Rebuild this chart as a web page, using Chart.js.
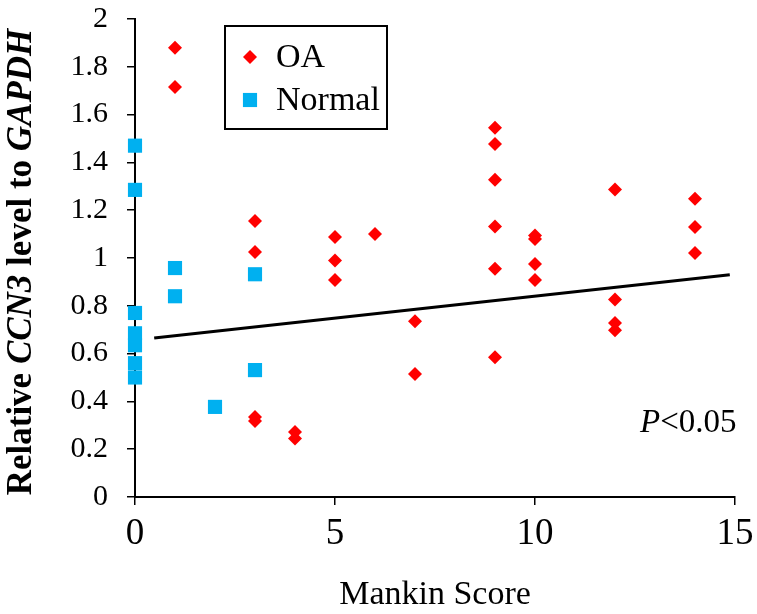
<!DOCTYPE html>
<html>
<head>
<meta charset="utf-8">
<script src="https://cdn.jsdelivr.net/npm/chart.js@4/dist/chart.umd.min.js"></script>
<style>
  html, body { margin: 0; padding: 0; background: #fff; }
  #wrap { width: 757px; height: 614px; }
</style>
</head>
<body>
<div id="wrap"><canvas id="grafico"></canvas></div>
<script>
// datos
const oaX = [1, 1, 3, 3, 3, 3, 4, 4, 5, 5, 5, 6, 7, 7, 9, 9, 9, 9, 9, 9, 10, 10, 10, 10, 12, 12, 12, 12, 14, 14, 14];
const oaY = [1.88, 1.715, 1.155, 1.025, 0.335, 0.318, 0.272, 0.245, 1.088, 0.99, 0.908, 1.10, 0.735, 0.515,
             1.545, 1.477, 1.327, 1.132, 0.955, 0.585, 1.094, 1.08, 0.975, 0.908, 1.287, 0.826, 0.728, 0.698,
             1.248, 1.13, 1.021];

const normalX = [0, 0, 0, 0, 0, 0, 0, 1, 1, 2, 3, 3];
const normalY = [1.47, 1.285, 0.77, 0.685, 0.635, 0.56, 0.50, 0.958, 0.84, 0.377, 0.932, 0.531];

const trendX = [0.48, 14.87];
const trendY = [0.665, 0.93];

const xTicks = [0, 5, 10, 15];
const yTicks = [0, 0.2, 0.4, 0.6, 0.8, 1, 1.2, 1.4, 1.6, 1.8, 2];

const serif = 'Liberation Serif';

function puntos(xs, ys) {
    return xs.map((x, i) => ({ x: x, y: ys[i] }));
}

// titulo del eje y con partes en cursiva
const tituloY = {
    id: 'tituloY',
    afterDraw(chart) {
        const ctx = chart.ctx;
        const partes = [
            { t: 'Relative ', f: 'bold 35px "' + serif + '"' },
            { t: 'CCN3', f: 'italic bold 35px "' + serif + '"' },
            { t: ' level to ', f: 'bold 35px "' + serif + '"' },
            { t: 'GAPDH', f: 'italic bold 35px "' + serif + '"' }
        ];
        ctx.save();
        let total = 0;
        partes.forEach(p => { ctx.font = p.f; p.w = ctx.measureText(p.t).width; total += p.w; });
        const area = chart.chartArea;
        ctx.translate(22, (area.top + area.bottom) / 2 + 4);
        ctx.rotate(-Math.PI / 2);
        ctx.fillStyle = '#000';
        ctx.textBaseline = 'middle';
        let x = -total / 2;
        partes.forEach(p => { ctx.font = p.f; ctx.fillText(p.t, x, 0); x += p.w; });
        ctx.restore();
    }
};

// leyenda con marco y texto P<0.05
const leyenda = {
    id: 'leyenda',
    afterDraw(chart) {
        const ctx = chart.ctx;
        ctx.save();
        ctx.strokeStyle = '#000';
        ctx.lineWidth = 2;
        ctx.strokeRect(225, 26, 162, 103);

        const items = [chart.data.datasets[0], chart.data.datasets[1]];
        const filas = [57, 100];
        items.forEach((ds, i) => {
            ctx.fillStyle = ds.backgroundColor;
            ctx.strokeStyle = ds.backgroundColor;
            Chart.helpers.drawPoint(ctx, {
                pointStyle: ds.pointStyle,
                radius: ds.pointRadius,
                borderWidth: 0,
                rotation: 0
            }, 250, filas[i]);
            ctx.fillStyle = '#000';
            ctx.font = '34px "' + serif + '"';
            ctx.textBaseline = 'middle';
            ctx.fillText(ds.label, 276, filas[i] + 1);
        });

        ctx.textBaseline = 'alphabetic';
        ctx.font = 'italic 33px "' + serif + '"';
        const wP = ctx.measureText('P').width;
        ctx.fillText('P', 640, 432);
        ctx.font = '33px "' + serif + '"';
        ctx.fillText('<0.05', 640 + wP, 432);
        ctx.restore();
    }
};

new Chart(document.getElementById('grafico'), {
    type: 'scatter',
    data: {
        datasets: [
            {
                label: 'OA',
                data: puntos(oaX, oaY),
                backgroundColor: '#ff0000',
                borderColor: '#ff0000',
                pointStyle: 'rectRot',
                pointRadius: 7,
                pointBorderWidth: 0,
                clip: false
            },
            {
                label: 'Normal',
                data: puntos(normalX, normalY),
                backgroundColor: '#00b0f0',
                borderColor: '#00b0f0',
                pointStyle: 'rect',
                pointRadius: 10,
                pointBorderWidth: 0,
                clip: false
            },
            {
                type: 'line',
                label: 'tendencia',
                data: puntos(trendX, trendY),
                borderColor: '#000',
                borderWidth: 3,
                pointRadius: 0,
                fill: false
            }
        ]
    },
    options: {
        responsive: true,
        maintainAspectRatio: false,
        animation: false,
        layout: { padding: { left: 0, right: 22, top: 19, bottom: 0 } },
        plugins: {
            legend: { display: false },
            tooltip: { enabled: false }
        },
        scales: {
            x: {
                type: 'linear',
                min: 0,
                max: 15,
                afterBuildTicks: axis => { axis.ticks = xTicks.map(v => ({ value: v })); },
                afterFit: scale => {
                    scale.height = 117;
                    scale.paddingLeft = 0;
                    scale.paddingRight = 0;
                },
                grid: { drawOnChartArea: false, color: '#000', lineWidth: 1.5, tickLength: 8 },
                border: { color: '#000', width: 2 },
                ticks: {
                    color: '#000',
                    font: { family: serif, size: 37 },
                    padding: 7,
                    maxRotation: 0
                },
                title: {
                    display: true,
                    text: 'Mankin Score',
                    color: '#000',
                    font: { family: serif, size: 34 },
                    padding: { top: 0, bottom: -1 }
                }
            },
            y: {
                type: 'linear',
                min: 0,
                max: 2,
                afterBuildTicks: axis => { axis.ticks = yTicks.map(v => ({ value: v })); },
                afterFit: scale => {
                    scale.width = 135;
                    scale.paddingTop = 0;
                    scale.paddingBottom = 0;
                },
                grid: { drawOnChartArea: false, color: '#000', lineWidth: 1.5, tickLength: 8 },
                border: { color: '#000', width: 2 },
                ticks: {
                    color: '#000',
                    font: { family: serif, size: 30 },
                    padding: 19,
                    callback: v => String(Number(v.toFixed(1)))
                }
            }
        }
    },
    plugins: [tituloY, leyenda]
});
</script>
</body>
</html>
